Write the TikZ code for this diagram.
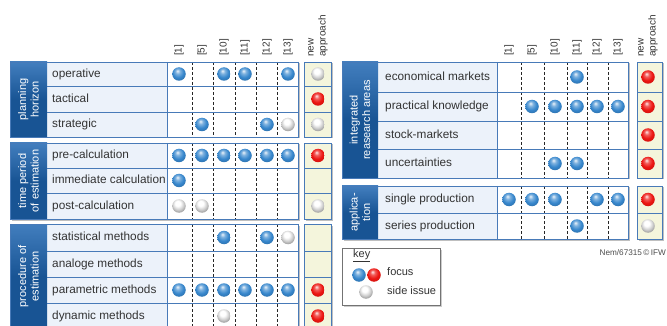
\documentclass[tikz,border=0pt]{standalone}
\usepackage{fontspec}
\setmainfont{Liberation Sans}
\definecolor{catdark}{RGB}{24,84,148}
\definecolor{cattop}{RGB}{66,126,190}
\definecolor{framec}{RGB}{72,122,184}
\definecolor{itemfill}{RGB}{236,242,250}
\definecolor{newfill}{RGB}{244,245,220}
\definecolor{dotblue}{RGB}{55,135,205}
\definecolor{dotred}{RGB}{236,22,18}
\definecolor{dotwhite}{RGB}{246,246,246}
\pgfdeclareradialshading{blueball}{\pgfpoint{-6bp}{12bp}}{color(0bp)=(dotblue!10!white);
  color(9bp)=(dotblue!65!white); color(20bp)=(dotblue); color(34bp)=(dotblue!80!black);
  color(50bp)=(dotblue!45!black)}
\pgfdeclareradialshading{redball}{\pgfpoint{-6bp}{12bp}}{color(0bp)=(dotred!10!white);
  color(9bp)=(dotred!70!white); color(20bp)=(dotred); color(34bp)=(dotred!85!black);
  color(50bp)=(dotred!50!black)}
\pgfdeclareradialshading{whiteball}{\pgfpoint{-6bp}{12bp}}{color(0bp)=(white);
  color(10bp)=(white); color(20bp)=(dotwhite!85!black); color(30bp)=(dotwhite!62!black);
  color(40bp)=(dotwhite!48!black); color(50bp)=(dotwhite!38!black)}
\tikzset{
  frame/.style={draw=framec,line width=0.8pt},
  sep/.style={draw=framec,line width=0.6pt},
  colsep/.style={black!85,line width=0.6pt,dash pattern=on 3pt off 2pt},
  catfill/.style={top color=cattop,bottom color=catdark,middle color=catdark},
  newcell/.style={fill=newfill,draw=framec,line width=0.8pt},
  cat/.style={rotate=90,text=white,align=center,inner sep=0pt,
    font=\fontsize{11}{12.5}\selectfont},
  item/.style={anchor=west,inner sep=0pt,text height=8.6pt,text depth=2.4pt,
    text=black!80,font=\fontsize{11.8}{13}\selectfont},
  colhead/.style={rotate=90,anchor=west,inner sep=0pt,text=black!80,
    font=\fontsize{10}{11}\selectfont},
  dot/.style={circle,inner sep=0pt,minimum size=13.5pt,shade},
  keytext/.style={anchor=west,inner sep=0pt,text=black!80,
    font=\fontsize{11}{12}\selectfont},
}
% column coordinates and their headers: prefix, x/ref list, x of new column
\newcommand{\colgen}[3]{
  \foreach \x/\r [count=\i] in {#2}{
    \coordinate (#1\i) at (\x,56);
    \node[colhead] (#1head\i) at (#1\i) {[\r]};
  }
  \coordinate (#1n) at (#3,57);
  \node[colhead,align=left,font=\fontsize{10}{12}\selectfont] (#1headn) at (#1n) {new\\approach};
}
% one group of rows: name, top, bottom, label
\newcommand{\groupgen}[4]{
  \fill[black!25] (\catL+1.5,#2+1.5) rectangle (\cellR+1.5,#3+1.5);
  \fill[black!25] (\newL+1.5,#2+1.5) rectangle (\newR+1.5,#3+1.5);
  \fill[white] (\catL,#2) rectangle (\cellR,#3);
  \fill[itemfill] (\catR,#2) rectangle (\itemR,#3);
  \foreach \x in \dashes {\draw[colsep] (\x,#2) -- (\x,#3);}
  \shade[catfill] (\catL,#2) rectangle (\catR,#3);
  \draw[frame] (\catL,#2) rectangle (\cellR,#3);
  \draw[frame] (\itemR,#2) -- (\itemR,#3);
  \node[cat] (#1) at ({(\catL+\catR)/2},{(#2+#3)/2}) {#4};
}
% one row: name, top, bottom, text
\newcommand{\rowgen}[4]{
  \draw[sep] (\catR,#2) -- (\cellR,#2);
  \path[newcell] (\newL,#2) rectangle (\newR,#3);
  \node[item] (#1) at (\txtX,{(#2+#3)/2}) {#4};
}
% balls of a row: row name, column/shading list
\newcommand{\dotsrow}[2]{
  \foreach \c/\k in {#2}{
    \node[dot,shading=\k] (#1-\c) at (\c |- #1) {};
  }
}

\begin{document}
\begin{tikzpicture}[x=1pt,y=-1pt]
  \useasboundingbox (0,0) rectangle (667,326);
  % left table
  \def\catL{10}\def\catR{47}\def\itemR{167}\def\cellR{298}
  \def\newL{304}\def\newR{331}\def\txtX{52}
  \def\dashes{192,213,235,256,277,298}
  \colgen{a}{179/1,202/5,224/10,245/11,267/12,288/13}{318}
  \groupgen{plan}{62}{137}{planning\\horizon}
  \rowgen{oper}{62}{86}{operative}
  \rowgen{tact}{86}{112}{tactical}
  \rowgen{strat}{112}{137}{strategic}
  \groupgen{period}{143}{219}{time period\\of estimation}
  \rowgen{pre}{143}{168}{pre-calculation}
  \rowgen{imm}{168}{193}{immediate calculation}
  \rowgen{post}{193}{219}{post-calculation}
  \groupgen{proc}{224}{329}{procedure of\\estimation}
  \rowgen{stat}{224}{251}{statistical methods}
  \rowgen{analog}{251}{277}{analoge methods}
  \rowgen{param}{277}{303}{parametric methods}
  \rowgen{dyn}{303}{329}{dynamic methods}
  \dotsrow{oper}{a1/blueball,a3/blueball,a4/blueball,a6/blueball,an/whiteball}
  \dotsrow{tact}{an/redball}
  \dotsrow{strat}{a2/blueball,a5/blueball,a6/whiteball,an/whiteball}
  \dotsrow{pre}{a1/blueball,a2/blueball,a3/blueball,a4/blueball,a5/blueball,a6/blueball,an/redball}
  \dotsrow{imm}{a1/blueball}
  \dotsrow{post}{a1/whiteball,a2/whiteball,an/whiteball}
  \dotsrow{stat}{a3/blueball,a5/blueball,a6/whiteball}
  \dotsrow{param}{a1/blueball,a2/blueball,a3/blueball,a4/blueball,a5/blueball,a6/blueball,an/redball}
  \dotsrow{dyn}{a3/whiteball,an/redball}
  % right table
  \def\catL{342}\def\catR{378}\def\itemR{497}\def\cellR{628}
  \def\newL{637}\def\newR{662}\def\txtX{385}
  \def\dashes{521,544,567,587,608}
  \colgen{b}{509/1,532/5,555/10,577/11,597/12,618/13}{648}
  \groupgen{areas}{62}{178}{integrated\\reasearch areas}
  \rowgen{econ}{62}{92}{economical markets}
  \rowgen{pract}{92}{121}{practical knowledge}
  \rowgen{stock}{121}{149}{stock-markets}
  \rowgen{uncert}{149}{178}{uncertainties}
  \groupgen{appl}{186}{239}{applica-\\tion}
  \rowgen{single}{186}{213}{single production}
  \rowgen{series}{213}{239}{series production}
  \dotsrow{econ}{b4/blueball,bn/redball}
  \dotsrow{pract}{b2/blueball,b3/blueball,b4/blueball,b5/blueball,b6/blueball,bn/redball}
  \dotsrow{stock}{bn/redball}
  \dotsrow{uncert}{b3/blueball,b4/blueball,bn/redball}
  \dotsrow{single}{b1/blueball,b2/blueball,b3/blueball,b5/blueball,b6/blueball,bn/redball}
  \dotsrow{series}{b4/blueball,bn/whiteball}
  % key
  \fill[black!20] (344,250) rectangle (442,307);
  \node[draw=black!55,fill=white,line width=0.8pt,inner sep=0pt,
    minimum width=98,minimum height=57] (key) at (391,276.5) {};
  \node[keytext] (keyhead) at (353,256) {\underline{key}};
  \node[dot,shading=blueball] (keyblue) at (359,275) {};
  \node[dot,shading=redball] (keyred) at (374,275) {};
  \node[dot,shading=whiteball] (keywhite) at (366,292) {};
  \node[keytext] (keyfocus) at (387,272) {focus};
  \node[keytext] (keyside) at (387,291) {side issue};
  \node[anchor=east,inner sep=0pt,text=black!70,font=\fontsize{8.2}{9}\selectfont]
    (credit) at (666,253) {Nem/67315\,©\,IFW};
\end{tikzpicture}
\end{document}
